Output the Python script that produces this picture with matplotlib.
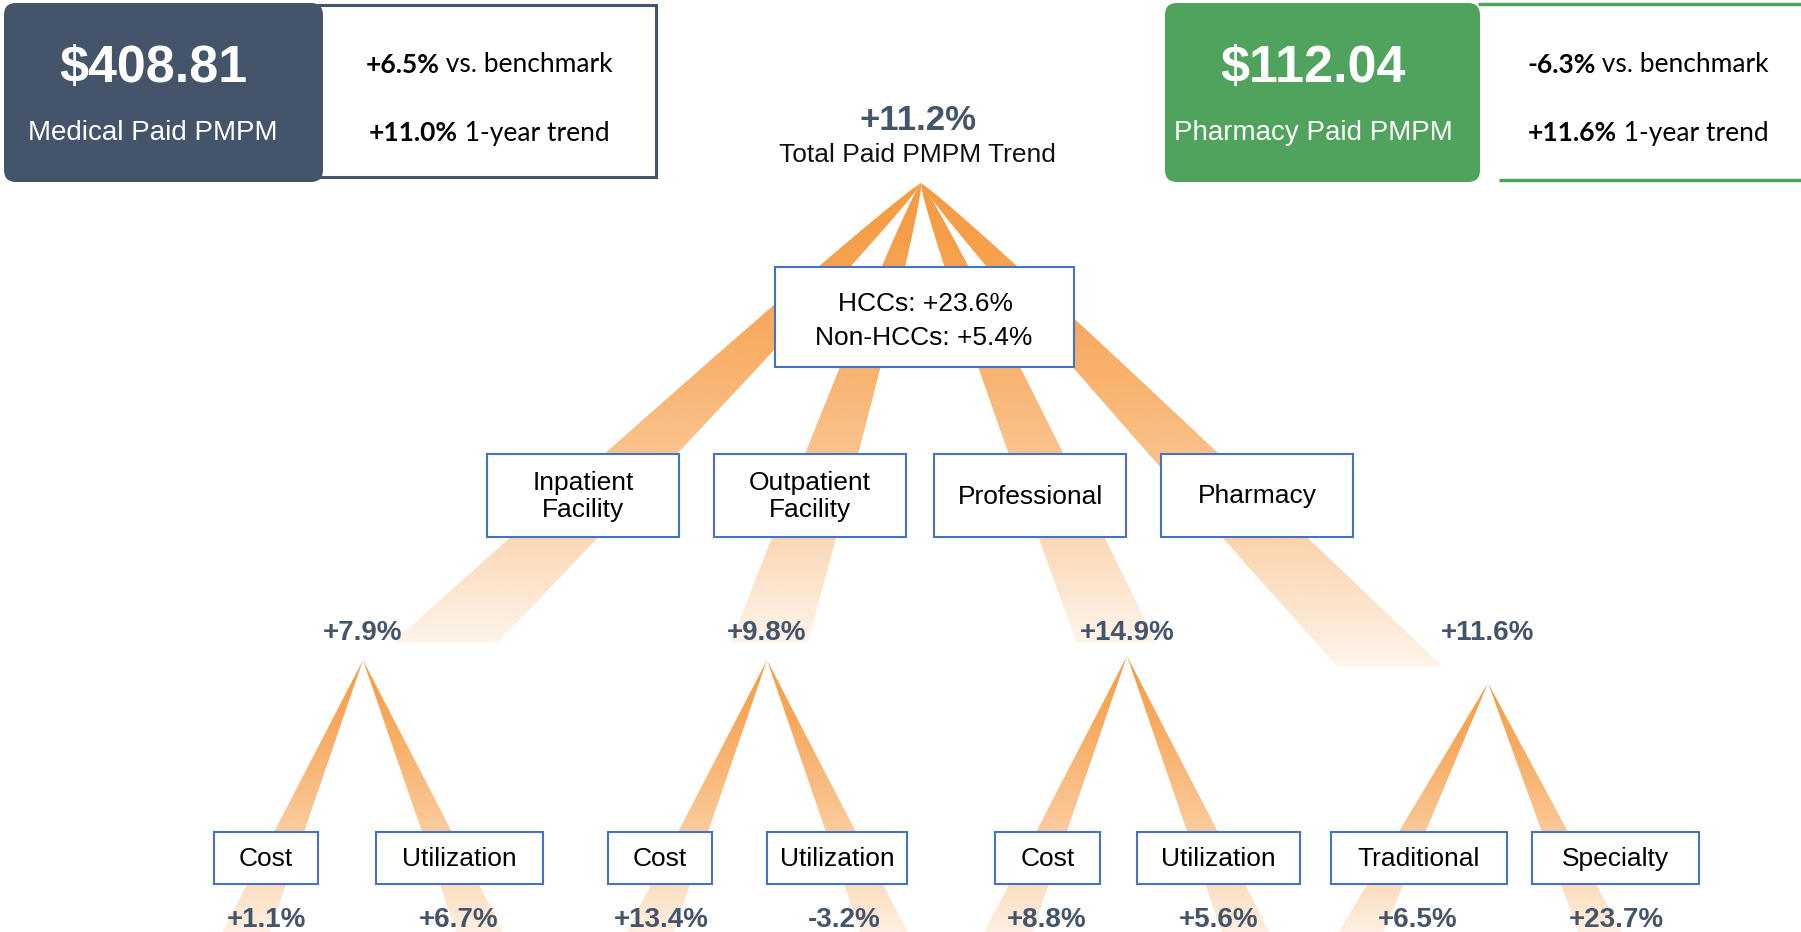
import numpy as np
import matplotlib
matplotlib.use("Agg")
import matplotlib.pyplot as plt
from matplotlib.patches import Polygon, Rectangle, FancyBboxPatch

plt.rcParams["font.family"] = ["Liberation Sans", "DejaVu Sans"]

# ---- data ----
card_values = ["$408.81", "$112.04"]
card_labels = ["Medical Paid PMPM", "Pharmacy Paid PMPM"]
card_bench = ["+6.5%", "-6.3%"]
card_trend = ["+11.0%", "+11.6%"]

total_trend = "+11.2%"
total_label = "Total Paid PMPM Trend"
hcc_lines = ["HCCs: +23.6%", "Non-HCCs: +5.4%"]

categories = ["Inpatient\nFacility", "Outpatient\nFacility", "Professional", "Pharmacy"]
category_trend = ["+7.9%", "+9.8%", "+14.9%", "+11.6%"]
sub_labels = [["Cost", "Utilization"], ["Cost", "Utilization"],
              ["Cost", "Utilization"], ["Traditional", "Specialty"]]
sub_trend = [["+1.1%", "+6.7%"], ["+13.4%", "-3.2%"],
             ["+8.8%", "+5.6%"], ["+6.5%", "+23.7%"]]

# ---- layout (pixels) ----
W, H = 1801, 932
slate = "#44546A"
blue = "#4472C4"
green = "#4FA35C"
orange = np.array([246, 150, 56]) / 255

apex = (921, 183)
main_slopes = [-1.035, -0.33, 0.425, 0.97]
main_cut = [643, 643, 643, 667]
cat_box_x = [487, 714, 934, 1161]
cat_box_w, cat_box_y, cat_box_h = 192, 454, 83
cat_label_x = [363, 767, 1127, 1488]
cat_label_y = 633
sub_apex_y = [660, 660, 656, 683]
sub_slopes = [(-0.43, 0.43), (-0.43, 0.43), (-0.43, 0.43), (-0.51, 0.45)]
sub_box_x = [[(214, 318), (376, 543)], [(608, 712), (767, 907)],
             [(995, 1100), (1137, 1300)], [(1331, 1507), (1532, 1699)]]
sub_box_y, sub_box_h = 832, 52
sub_label_x = [[267, 459], [661, 844], [1047, 1219], [1418, 1616]]
sub_label_y = 920

fig = plt.figure(figsize=(W / 100, H / 100), dpi=100)
ax = fig.add_axes([0, 0, 1, 1])
ax.set_xlim(0, W)
ax.set_ylim(H, 0)
ax.set_autoscale_on(False)
ax.axis("off")


def beam(x0, y0, slope, y1, a, p, a0, a1, gamma=1.2):
    ys = np.linspace(y0, y1, 80)
    dy = ys - y0
    cx = x0 + slope * dy
    hw = 0.5 * a * dy ** p * np.sqrt(1 + slope ** 2)
    pts = np.vstack([np.column_stack([cx - hw, ys]),
                     np.column_stack([cx + hw, ys])[::-1]])
    poly = Polygon(pts, closed=True, fc="none", ec="none")
    ax.add_patch(poly)
    n = 256
    t = np.linspace(0, 1, n)[:, None]
    img = np.zeros((n, 1, 4))
    img[..., :3] = orange
    img[..., 3] = a0 + (a1 - a0) * t ** gamma
    im = ax.imshow(img, extent=(pts[:, 0].min(), pts[:, 0].max(), y1, y0),
                   aspect="auto", interpolation="bilinear", zorder=1)
    im.set_clip_path(poly)


# main fan
for s, yc in zip(main_slopes, main_cut):
    beam(apex[0], apex[1], s, yc, 1.0, 0.7, 0.95, 0.1, 1.5)

# sub fans
for i in range(4):
    for s in sub_slopes[i]:
        beam(cat_label_x[i], sub_apex_y[i], s, H, 0.16, 1.0, 0.95, 0.15, 1.2)

renderer = fig.canvas.get_renderer()


def mixed(x, y, bold, rest, size):
    t1 = ax.text(0, y, bold, fontweight="bold", fontsize=size, family=["Lato", "DejaVu Sans"],
                 ha="left", va="center", color="black", zorder=6)
    t2 = ax.text(0, y, " " + rest, fontsize=size, family=["Lato", "DejaVu Sans"],
                 ha="left", va="center", color="black", zorder=6)
    w1 = t1.get_window_extent(renderer).width
    w2 = t2.get_window_extent(renderer).width
    left = x - (w1 + w2) / 2
    t1.set_x(left)
    t2.set_x(left + w1)


# ---- top cards ----
ax.add_patch(Rectangle((318, 5), 338, 172, fc="white", ec=slate, lw=2.2, zorder=3))
ax.add_patch(FancyBboxPatch((4 + 12, 3 + 12), 319 - 24, 179 - 24,
                            boxstyle="round,pad=12", fc=slate, ec="none", zorder=4))
ax.add_patch(FancyBboxPatch((1165 + 12, 3 + 12), 315 - 24, 179 - 24,
                            boxstyle="round,pad=12", fc=green, ec="none", zorder=4))
ax.plot([1478, W], [4, 4], color=green, lw=2.5, solid_capstyle="butt", zorder=3)
ax.plot([1499, W], [180, 180], color=green, lw=2.5, solid_capstyle="butt", zorder=3)

card_cx = [153, 1313]
side_cx = [489, 1648]
for i in range(2):
    ax.text(card_cx[i], 69, card_values[i], fontsize=37.5, fontweight="bold",
            color="white", ha="center", va="center", zorder=6)
    ax.text(card_cx[i], 133, card_labels[i], fontsize=20, color="white",
            ha="center", va="center", zorder=6)
    mixed(side_cx[i], 65, card_bench[i], "vs. benchmark", 19)
    mixed(side_cx[i], 133, card_trend[i], "1-year trend", 19)

# ---- total ----
ax.text(918, 120, total_trend, fontsize=25, fontweight="bold", color=slate,
        ha="center", va="center", zorder=6)
ax.text(917, 155, total_label, fontsize=19, color="#111111",
        ha="center", va="center", zorder=6)

ax.add_patch(Rectangle((775, 267), 299, 100, fc="white", ec=blue, lw=1.5, zorder=5))
ax.text(925, 304, hcc_lines[0], fontsize=19, ha="center", va="center", zorder=6)
ax.text(924, 338, hcc_lines[1], fontsize=19, ha="center", va="center", zorder=6)

# ---- categories ----
for i in range(4):
    ax.add_patch(Rectangle((cat_box_x[i], cat_box_y), cat_box_w, cat_box_h,
                           fc="white", ec=blue, lw=1.5, zorder=5))
    ax.text(cat_box_x[i] + cat_box_w / 2, cat_box_y + cat_box_h / 2 + 1, categories[i],
            fontsize=19, ha="center", va="center", linespacing=1.15, zorder=6)
    ax.text(cat_label_x[i], cat_label_y, category_trend[i], fontsize=20,
            fontweight="bold", color=slate, ha="center", va="center", zorder=6)
    for j in range(2):
        x0, x1 = sub_box_x[i][j]
        ax.add_patch(Rectangle((x0, sub_box_y), x1 - x0, sub_box_h,
                               fc="white", ec=blue, lw=1.5, zorder=5))
        ax.text((x0 + x1) / 2, sub_box_y + sub_box_h / 2 + 1, sub_labels[i][j],
                fontsize=19, ha="center", va="center", zorder=6)
        ax.text(sub_label_x[i][j], sub_label_y, sub_trend[i][j], fontsize=20,
                fontweight="bold", color=slate, ha="center", va="center", zorder=6)

fig.savefig("out.png", dpi=100)
